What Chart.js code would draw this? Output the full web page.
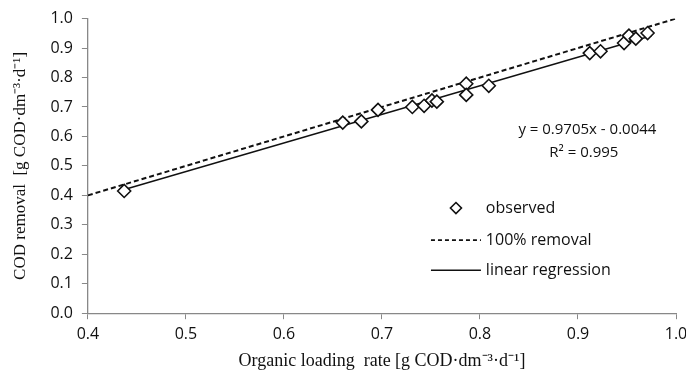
<!DOCTYPE html>
<html>
<head>
<meta charset="utf-8">
<script src="https://cdn.jsdelivr.net/npm/chart.js@4"></script>
<style>
  html,body{margin:0;padding:0;background:#fff;}
  #wrap{width:686px;height:372px;position:relative;}
</style>
</head>
<body>
<div id="wrap"><canvas id="myChart" width="686" height="372"></canvas></div>
<script>
// observed data
const olr = [0.437, 0.660, 0.679, 0.696, 0.731, 0.743, 0.751, 0.756, 0.786, 0.786, 0.809, 0.912, 0.923, 0.947, 0.952, 0.959, 0.971];
const codRemoval = [0.415, 0.647, 0.651, 0.690, 0.700, 0.704, 0.722, 0.718, 0.779, 0.741, 0.772, 0.883, 0.889, 0.917, 0.942, 0.932, 0.951];

// reference lines
const fullX = [0.4, 1.0];
const fullY = [0.4, 1.0];
const slope = 0.9705;
const intercept = -0.0044;
const regX = [0.432, 0.975];

const xTicks = [0.4, 0.5, 0.6, 0.7, 0.8, 0.9, 1.0];
const yTicks = [0.0, 0.1, 0.2, 0.3, 0.4, 0.5, 0.6, 0.7, 0.8, 0.9, 1.0];

const eqText = 'y = 0.9705x - 0.0044';
const r2Text = 'R² = 0.995';
const legendNames = ['observed', '100% removal', 'linear regression'];

function pts(xs, ys){
    return xs.map((x,i)=>({x:x, y:ys[i]}));
}

// draws the equation and the legend inside the plot
const extras = {
    id:'extras',
    afterDraw(chart){
        const ctx = chart.ctx;
        const xs = chart.scales.x, ys = chart.scales.y;
        ctx.save();
        ctx.fillStyle = '#111';
        ctx.font = '15px "Open Sans", sans-serif';
        ctx.textBaseline = 'middle';
        ctx.textAlign = 'right';
        ctx.fillText(eqText, xs.getPixelForValue(0.98), ys.getPixelForValue(0.622));
        ctx.textAlign = 'center';
        ctx.fillText(r2Text, xs.getPixelForValue(0.906), ys.getPixelForValue(0.544));

        // legend
        ctx.textAlign = 'left';
        ctx.font = '16px "Open Sans", sans-serif';
        const tx = xs.getPixelForValue(0.806);
        const x0 = xs.getPixelForValue(0.75), x1 = xs.getPixelForValue(0.801);
        const rows = [0.357, 0.248, 0.146].map(v=>ys.getPixelForValue(v));
        // diamond
        const cx = xs.getPixelForValue(0.7755);
        ctx.strokeStyle = '#111';
        ctx.lineWidth = 1.6;
        ctx.beginPath();
        ctx.moveTo(cx, rows[0]-5.5); ctx.lineTo(cx+5.5, rows[0]); ctx.lineTo(cx, rows[0]+5.5); ctx.lineTo(cx-5.5, rows[0]); ctx.closePath();
        ctx.stroke();
        ctx.fillText(legendNames[0], tx, rows[0]);
        ctx.lineWidth = 1.8;
        ctx.setLineDash([4,3]);
        ctx.beginPath(); ctx.moveTo(x0, rows[1]); ctx.lineTo(x1, rows[1]); ctx.stroke();
        ctx.setLineDash([]);
        ctx.fillText(legendNames[1], tx, rows[1]);
        ctx.lineWidth = 1.4;
        ctx.beginPath(); ctx.moveTo(x0, rows[2]); ctx.lineTo(x1, rows[2]); ctx.stroke();
        ctx.fillText(legendNames[2], tx, rows[2]);
        ctx.restore();
    }
};

window.addEventListener('load',()=>{
    const ctx = document.getElementById('myChart').getContext('2d');
    new Chart(ctx, {
        type:'scatter',
        data:{
            datasets:[
                {
                    label:'100% removal',
                    data:pts(fullX, fullY),
                    showLine:true,
                    borderColor:'#111',
                    borderWidth:2,
                    borderDash:[5,3],
                    pointRadius:0,
                    order:3
                },
                {
                    label:'linear regression',
                    data:regX.map(x=>({x:x, y:slope*x+intercept})),
                    showLine:true,
                    borderColor:'#111',
                    borderWidth:1.4,
                    pointRadius:0,
                    order:2
                },
                {
                    label:'observed',
                    data:pts(olr, codRemoval),
                    pointStyle:'rectRot',
                    pointRadius:6.5,
                    pointBackgroundColor:'#fff',
                    pointBorderColor:'#111',
                    pointBorderWidth:1.6,
                    order:1
                }
            ]
        },
        options:{
            responsive:false,
            animation:false,
            layout:{padding:{top:12, right:0, left:10, bottom:0}},
            plugins:{legend:{display:false}, tooltip:{enabled:false}},
            scales:{
                x:{
                    type:'linear', min:0.4, max:1.0,
                    afterBuildTicks:(s)=>{ s.ticks = xTicks.map(v=>({value:v})); },
                    afterFit:(s)=>{ s.paddingRight = 10; },
                    grid:{drawOnChartArea:false, color:'#888', tickLength:6, tickColor:'#888'},
                    border:{color:'#888', width:1.3},
                    ticks:{color:'#111', font:{family:'"Open Sans", sans-serif', size:16}, padding:6,
                        callback:(v)=>v.toFixed(1)},
                    title:{display:true, text:'Organic loading  rate [g COD·dm⁻³·d⁻¹]', color:'#111',
                        font:{family:'"Liberation Serif", serif', size:18}, padding:{top:0, bottom:0}}
                },
                y:{
                    type:'linear', min:0, max:1.0,
                    afterBuildTicks:(s)=>{ s.ticks = yTicks.map(v=>({value:v})); },
                    grid:{drawOnChartArea:false, color:'#888', tickLength:6, tickColor:'#888'},
                    border:{color:'#888', width:1.3},
                    ticks:{color:'#111', font:{family:'"Open Sans", sans-serif', size:16}, padding:9,
                        callback:(v)=>v.toFixed(1)},
                    title:{display:true, text:'COD removal  [g COD·dm⁻³·d⁻¹]', color:'#111',
                        font:{family:'"Liberation Serif", serif', size:17}, padding:{top:0, bottom:11}}
                }
            }
        },
        plugins:[extras]
    });
});
</script>
</body>
</html>
